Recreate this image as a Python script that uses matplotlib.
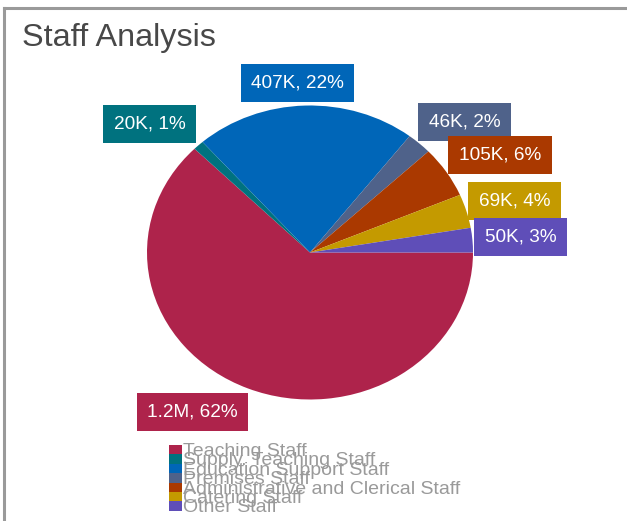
import matplotlib
matplotlib.use("Agg")
import matplotlib.pyplot as plt
from matplotlib.patches import Rectangle
from matplotlib.lines import Line2D
import numpy as np

plt.rcParams['font.family'] = ['Liberation Sans', 'DejaVu Sans']

# Staff cost breakdown
categories = ["Teaching Staff", "Supply. Teaching Staff", "Education Support Staff",
              "Premises Staff", "Administrative and Clerical Staff", "Catering Staff",
              "Other Staff"]
values = [1160000, 20000, 407000, 46000, 105000, 69000, 50000]
colors = ["#AE234B", "#00727F", "#0066B8", "#4F628A", "#AA3900", "#C49A00", "#5F4EB8"]

# Label placement relative to each wedge's mid-angle (degrees offset, radius)
label_angle_offset = [-11.1, 5.2, 2.0, -4.7, -3.5, -0.8, -0.2]
label_radius = [1.305, 1.317, 1.156, 1.301, 1.343, 1.303, 1.296]

W, H = 627, 521
fig = plt.figure(figsize=(W / 100, H / 100), dpi=100)


def fx(px):
    return px / W


def fy(py):
    return 1 - py / H


def fmt_value(v):
    if v >= 1e6:
        return f"{v / 1e6:.1f}M"
    return f"{v / 1e3:.0f}K"


# Outer frame (top and left edges)
fig.add_artist(Line2D([fx(4), fx(4)], [fy(8), 0], color="#9a9a9a", lw=2.2,
                      transform=fig.transFigure))
fig.add_artist(Line2D([fx(4), 1], [fy(8), fy(8)], color="#9a9a9a", lw=2.2,
                      transform=fig.transFigure))

fig.text(fx(22), fy(46), "Staff Analysis", fontsize=23.3, color="#484848",
         ha="left", va="baseline")

# Pie, stretched horizontally
ax = fig.add_axes([fx(147), (H - 399.5) / H, 326 / W, 294 / H])
wedges, _ = ax.pie(values, colors=colors, startangle=0, counterclock=False,
                   radius=1, wedgeprops=dict(linewidth=0))
ax.set_xlim(-1, 1)
ax.set_ylim(-1, 1)
ax.set_aspect("auto")
ax.axis("off")

total = sum(values)
for i, (w, v) in enumerate(zip(wedges, values)):
    mid = np.deg2rad((w.theta1 + w.theta2) / 2 + label_angle_offset[i])
    r = label_radius[i]
    pct = 100 * v / total
    ax.text(r * np.cos(mid), r * np.sin(mid), f"{fmt_value(v)}, {pct:.0f}%",
            fontsize=13.7, color="white", ha="center", va="center",
            bbox=dict(boxstyle="square,pad=0.55", fc=colors[i], ec="none"),
            clip_on=False)

# Legend (tightly stacked rows)
leg_x, leg_top, leg_step = 169, 445, 9.4
for i, (name, c) in enumerate(zip(categories, colors)):
    top = leg_top + i * leg_step
    fig.add_artist(Rectangle((fx(leg_x), fy(top + leg_step)), 13 / W, leg_step / H,
                             transform=fig.transFigure, fc=c, ec="none"))
    fig.text(fx(183), fy(top + 11), name, fontsize=14, color="#9a9a9a",
             ha="left", va="baseline")

fig.savefig("out.png", dpi=100)
